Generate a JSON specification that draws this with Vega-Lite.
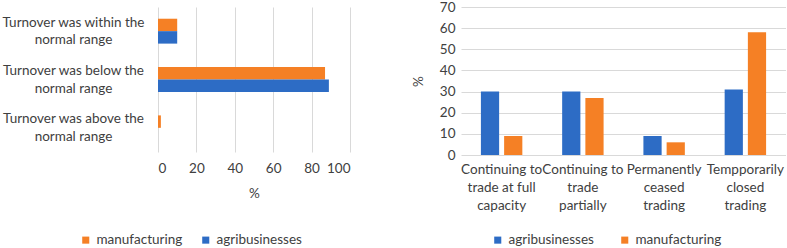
{
  "$schema": "https://vega.github.io/schema/vega-lite/v6.json",
  "padding": {"left": 1, "top": 0, "right": 0, "bottom": 0},
  "background": "white",
  "config": {
    "font": "Lato",
    "view": {"stroke": null},
    "axis": {
      "labelFont": "Lato", "titleFont": "Lato",
      "labelColor": "#404040", "titleColor": "#404040",
      "labelFontSize": 13.5, "titleFontSize": 13.5, "titleFontWeight": "normal",
      "gridColor": "#d9d9d9", "domain": false, "ticks": false
    },
    "legend": {
      "labelFont": "Lato", "labelFontSize": 13.5, "labelColor": "#404040",
      "symbolType": "square", "symbolSize": 50, "symbolStrokeWidth": 0,
      "labelOffset": 4, "padding": 0
    }
  },
  "spacing": 61,
  "resolve": {"scale": {"color": "independent"}},
  "hconcat": [
    {
      "width": 192,
      "height": 145,
      "data": {"values": [
        {"cat": "Turnover was within the|normal range", "series": "manufacturing", "value": 10},
        {"cat": "Turnover was within the|normal range", "series": "agribusinesses", "value": 10},
        {"cat": "Turnover was below the|normal range", "series": "manufacturing", "value": 87},
        {"cat": "Turnover was below the|normal range", "series": "agribusinesses", "value": 89},
        {"cat": "Turnover was above the|normal range", "series": "manufacturing", "value": 1.5},
        {"cat": "Turnover was above the|normal range", "series": "agribusinesses", "value": 0}
      ]},
      "mark": {"type": "bar"},
      "encoding": {
        "y": {
          "field": "cat", "type": "nominal",
          "sort": ["Turnover was within the|normal range", "Turnover was below the|normal range", "Turnover was above the|normal range"],
          "scale": {"paddingInner": 0.485, "paddingOuter": 0.2425},
          "axis": {"title": null, "labelExpr": "split(datum.label, '|')", "labelAlign": "center", "labelBaseline": "middle", "labelOffset": -8.5, "labelPadding": 85, "labelLineHeight": 17.5, "grid": false, "labelLimit": 300}
        },
        "yOffset": {"field": "series", "type": "nominal", "scale": {"domain": ["manufacturing", "agribusinesses"], "paddingInner": 0, "paddingOuter": 0}},
        "x": {
          "field": "value", "type": "quantitative",
          "scale": {"domain": [0, 100], "nice": false},
          "axis": {"values": [0, 20, 40, 60, 80, 100], "title": "%", "grid": true, "labelPadding": 9, "titlePadding": 12}
        },
        "color": {
          "field": "series", "type": "nominal",
          "scale": {"domain": ["manufacturing", "agribusinesses"], "range": ["#F58025", "#2D6CC5"]},
          "legend": {"orient": "none", "legendX": -79, "legendY": 226, "direction": "horizontal", "title": null, "columnPadding": 16}
        }
      }
    },
    {
      "width": 325,
      "height": 148,
      "data": {"values": [
        {"cat": "Continuing to|trade at full|capacity", "series": "agribusinesses", "value": 30},
        {"cat": "Continuing to|trade at full|capacity", "series": "manufacturing", "value": 9},
        {"cat": "Continuing to|trade|partially", "series": "agribusinesses", "value": 30},
        {"cat": "Continuing to|trade|partially", "series": "manufacturing", "value": 27},
        {"cat": "Permanently|ceased|trading", "series": "agribusinesses", "value": 9},
        {"cat": "Permanently|ceased|trading", "series": "manufacturing", "value": 6},
        {"cat": "Tempporarily|closed|trading", "series": "agribusinesses", "value": 31},
        {"cat": "Tempporarily|closed|trading", "series": "manufacturing", "value": 58}
      ]},
      "mark": {"type": "bar"},
      "encoding": {
        "x": {
          "field": "cat", "type": "nominal",
          "sort": ["Continuing to|trade at full|capacity", "Continuing to|trade|partially", "Permanently|ceased|trading", "Tempporarily|closed|trading"],
          "scale": {"paddingInner": 0.49, "paddingOuter": 0.245},
          "axis": {"title": null, "labelAngle": 0, "labelExpr": "split(datum.label, '|')", "labelPadding": 7, "labelLineHeight": 18, "labelLimit": 300}
        },
        "xOffset": {"field": "series", "type": "nominal", "scale": {"domain": ["agribusinesses", "manufacturing"], "paddingInner": 0.215, "paddingOuter": 0}},
        "y": {
          "field": "value", "type": "quantitative",
          "scale": {"domain": [0, 70], "nice": false},
          "axis": {"values": [0, 10, 20, 30, 40, 50, 60, 70], "title": "%", "grid": true, "labelPadding": 6, "titlePadding": 14}
        },
        "color": {
          "field": "series", "type": "nominal",
          "scale": {"domain": ["agribusinesses", "manufacturing"], "range": ["#2D6CC5", "#F58025"]},
          "legend": {"orient": "none", "legendX": 30, "legendY": 226, "direction": "horizontal", "title": null, "columnPadding": 24}
        }
      }
    }
  ]
}
